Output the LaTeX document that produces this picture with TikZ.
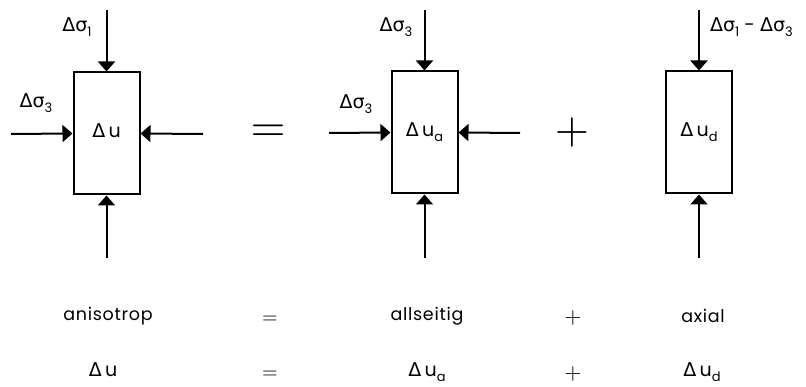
\documentclass[tikz,border=0pt]{standalone}
\usepackage{fontspec}
\setmainfont{Poppins}
\newfontfamily\grk{DejaVu Sans}
\newfontfamily\wordfont{Poppins}[LetterSpace=4]
\usetikzlibrary{arrows.meta, positioning}
\newcommand{\dsig}[1]{{\grk Δσ}\raisebox{-0.5ex}{\fontsize{13}{13}\selectfont #1}}
\newcommand{\dlu}[1]{{\grk Δ}\,u\raisebox{-0.5ex}{\fontsize{13}{13}\selectfont #1}}
\tikzset{
    probe/.style={draw, line width=2pt, minimum width=66pt, minimum height=122pt, inner sep=0pt, font=\fontsize{19}{22}\selectfont},
    load/.style={-{Triangle[length=10pt,width=17pt]}, line width=2pt},
    lbl/.style={inner sep=0pt, font=\fontsize{19}{22}\selectfont},
    word/.style={inner sep=0pt, font=\wordfont\fontsize{17.5}{20}\selectfont}
}
\begin{document}
\begin{tikzpicture}[x=1pt, y=-1pt]
    \useasboundingbox (0,0) rectangle (806,387);
    % Probes
    \node[probe] (P1) at (106.5,133.5) {\dlu{}};
    \node[probe] (P2) at (424.5,132.5) {\dlu{a}};
    \node[probe] (P3) at (699,132.5) {\dlu{d}};

    % free ends of the loads
    \coordinate (t1) at (106.5,10);
    \coordinate (b1) at (106.5,258);
    \coordinate (l1) at (11,134);
    \coordinate (r1) at (203,134);
    \coordinate (t2) at (424.5,10);
    \coordinate (b2) at (424.5,258);
    \coordinate (l2) at (329,133);
    \coordinate (r2) at (520,133);
    \coordinate (t3) at (699,10);
    \coordinate (b3) at (699,258);

    % Loads
    \draw[load] (t1) -- (P1.north);
    \draw[load] (b1) -- (P1.south);
    \draw[load] (l1) -- (P1.west);
    \draw[load] (r1) -- (P1.east);
    \draw[load] (t2) -- (P2.north);
    \draw[load] (b2) -- (P2.south);
    \draw[load] (l2) -- (P2.west);
    \draw[load] (r2) -- (P2.east);
    \draw[load] (t3) -- (P3.north);
    \draw[load] (b3) -- (P3.south);

    % Load labels
    \node[lbl] (s1) at (77,27) {\dsig{1}};
    \node[lbl] (s2) at (36,103) {\dsig{3}};
    \node[lbl] (s3) at (396,27) {\dsig{3}};
    \node[lbl] (s4) at (356,104) {\dsig{3}};
    \node[lbl, anchor=west] (s5) at (710,27) {\dsig{1} - \dsig{3}};

    % Operators
    \node[scale=4.5] (eq1) at (268,133) {$=$};
    \node[scale=4.4] (pl1) at (572,133) {$+$};

    % Legend
    \node[word] (w1) at (108,316) {anisotrop};
    \node[scale=2] (eq2) at (270,320) {$=$};
    \node[word] (w2) at (427,316) {allseitig};
    \node[scale=2.2] (pl2) at (573,318) {$+$};
    \node[word] (w3) at (703,316) {axial};
    \node[lbl] (u1) at (103,372) {\dlu{}};
    \node[scale=2] (eq3) at (270,375) {$=$};
    \node[lbl] (u2) at (427,372) {\dlu{a}};
    \node[scale=2.2] (pl3) at (573,374) {$+$};
    \node[lbl] (u3) at (702,372) {\dlu{d}};
\end{tikzpicture}
\end{document}
